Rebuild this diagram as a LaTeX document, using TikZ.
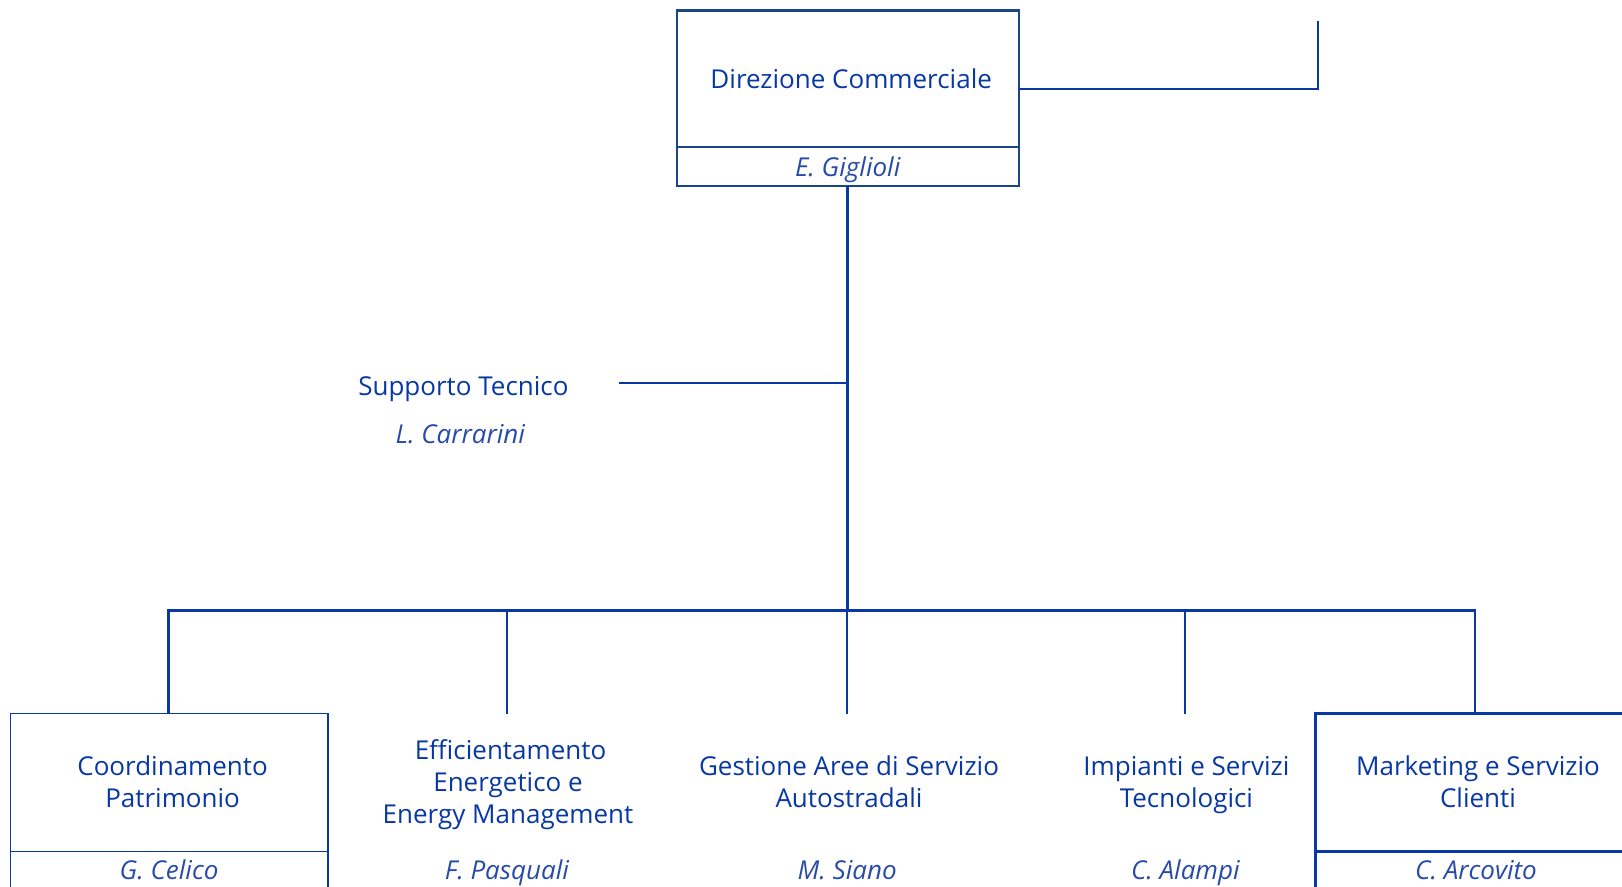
\documentclass[tikz,border=0pt]{standalone}
\usepackage{fontspec}
\setmainfont{Open Sans}
\definecolor{orgblue}{RGB}{8,56,164}
\definecolor{namblue}{RGB}{40,75,170}
\definecolor{topblue}{RGB}{25,70,135}
\begin{document}
\begin{tikzpicture}[x=1pt,y=-1pt,
  every node/.style={inner sep=0pt,outer sep=0pt,text=orgblue,font=\fontsize{26}{32}\selectfont},
  link/.style={draw=orgblue,line width=2.4pt},
  unit/.style={align=center,text depth=2pt,execute at begin node={\rule{0pt}{22.4pt}}},
  person/.style={text=namblue,font=\fontsize{26}{32}\selectfont\itshape},
  topcell/.style={draw=topblue,line width=2.4pt,minimum width=342pt},
  thincell/.style={draw=orgblue,line width=1.4pt,minimum width=317.6pt},
  thickcell/.style={draw=orgblue,line width=3pt,minimum width=320.4pt}]
\useasboundingbox (0,0) rectangle (1622,886);
\clip (0,0) rectangle (1622,886);
% top box
\node[topcell,minimum height=136.6pt,unit] (dc) at (847.7,78.6) {\hspace*{7pt}Direzione Commerciale};
\node[topcell,minimum height=39.3pt,person,anchor=north,text height=19pt,text depth=0pt] (dcn) at (dc.south) {E. Giglioli};
\coordinate (up) at (1318,20.7);
\draw[link] (dc.east |- 0,89) -| (up);
% staff
\node[anchor=base] (st) at (463.4,395) {Supporto Tecnico};
\node[person,anchor=base] (stn) at (460.3,443) {L. Carrarini};
\coordinate (stend) at (618.6,382.7);
\coordinate (bus) at (847.7,610.3);
\draw[link] (stend) -- (stend -| dcn.south);
\draw[link,line width=2.8pt] (dcn.south) -- (bus);
% children
\node[thincell,minimum height=137.6pt,unit] (c1) at (169.1,782.5) {\hspace*{7pt}Coordinamento\\\hspace*{7pt}Patrimonio};
\node[thincell,minimum height=40pt,person,anchor=north,text height=19pt,text depth=3.6pt] (c1n) at (c1.south) {G. Celico};
\node[unit] (c2) at (508,782.5) {\hspace*{5pt}Efficientamento\\Energetico e\\Energy Management};
\node[person,anchor=base] (c2n) at (506.9,879) {F. Pasquali};
\node[unit] (c3) at (849,782.5) {Gestione Aree di Servizio\\Autostradali};
\node[person,anchor=base] (c3n) at (847.2,879) {M. Siano};
\node[unit] (c4) at (1186.4,782.5) {Impianti e Servizi\\Tecnologici};
\node[person,anchor=base] (c4n) at (1185.4,879) {C. Alampi};
\node[thickcell,minimum height=137.6pt,unit] (c5) at (1476,782.5) {\hspace*{4pt}Marketing e Servizio\\\hspace*{4pt}Clienti};
\node[thickcell,minimum height=40pt,person,anchor=north,text height=19pt,text depth=3.6pt] (c5n) at (c5.south) {C. Arcovito};
\coordinate (t1) at (168.6,713.7);
\coordinate (t2) at (506.9,713.7);
\coordinate (t3) at (847.2,713.7);
\coordinate (t4) at (1185.4,713.7);
\coordinate (t5) at (1475.1,713.7);
\draw[link] (t1) -- (t1 |- bus) -- (t5 |- bus) -- (t5);
\draw[link,line width=2pt] (t2 |- bus) -- (t2);
\draw[link,line width=2pt] (t3 |- bus) -- (t3);
\draw[link,line width=2pt] (t4 |- bus) -- (t4);
\end{tikzpicture}
\end{document}
